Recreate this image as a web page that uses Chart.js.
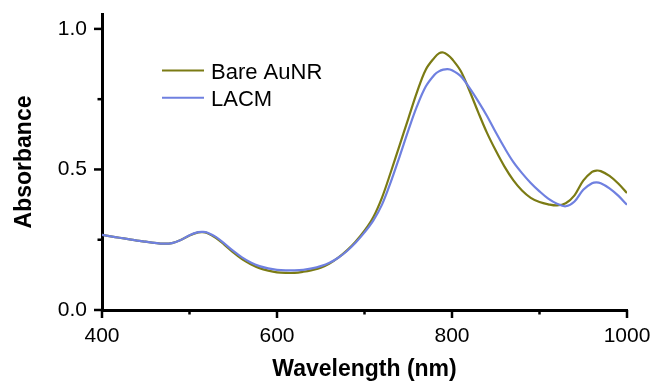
<!DOCTYPE html>
<html>
<head>
<meta charset="utf-8">
<script src="https://cdn.jsdelivr.net/npm/chart.js@4/dist/chart.umd.min.js"></script>
<style>
  html, body { margin: 0; padding: 0; background: #ffffff; }
  canvas { display: block; }
</style>
</head>
<body>
<canvas id="c" width="654" height="383"></canvas>
<script>
const wavelengths = [400,410,420,430,440,450,460,470,480,490,500,510,515,520,530,540,550,560,570,580,590,600,610,620,630,640,650,660,670,680,690,700,710,720,730,740,750,760,770,780,785,790,795,800,810,820,830,840,850,860,870,880,890,900,910,920,930,940,950,960,965,970,980,990,1000];

const bareAuNR = [0.267,0.262,0.257,0.252,0.247,0.243,0.239,0.236,0.238,0.249,0.265,0.276,0.277,0.274,0.257,0.232,0.205,0.181,0.163,0.149,0.140,0.134,0.132,0.132,0.136,0.142,0.150,0.165,0.186,0.212,0.244,0.282,0.330,0.400,0.490,0.585,0.680,0.775,0.855,0.898,0.913,0.916,0.908,0.893,0.850,0.780,0.703,0.630,0.567,0.510,0.462,0.425,0.399,0.384,0.376,0.372,0.380,0.408,0.460,0.491,0.496,0.494,0.477,0.450,0.416];

const lacm = [0.267,0.262,0.257,0.252,0.247,0.243,0.239,0.236,0.238,0.249,0.266,0.277,0.278,0.276,0.260,0.236,0.210,0.187,0.169,0.156,0.148,0.143,0.141,0.141,0.143,0.148,0.156,0.168,0.186,0.210,0.240,0.276,0.318,0.375,0.455,0.545,0.638,0.725,0.795,0.837,0.849,0.855,0.857,0.853,0.832,0.790,0.742,0.690,0.632,0.577,0.527,0.487,0.452,0.422,0.396,0.378,0.369,0.386,0.428,0.451,0.454,0.451,0.433,0.407,0.374];

const seriesNames = ['Bare AuNR', 'LACM'];
const seriesColors = ['#7b7b14', '#6f80e0'];
const xMajorLabels = [400, 600, 800, 1000];
const yMajorLabels = [0.0, 0.5, 1.0];

const FONT = "'Liberation Sans', Arial, sans-serif";

const toPoints = (ys) => wavelengths.map((x, i) => ({ x: x, y: ys[i] }));
const isMajor = (list, v) => list.some(m => Math.abs(m - v) < 1e-6);

const legendPlugin = {
  id: 'insideLegend',
  afterDatasetsDraw(chart) {
    const ctx = chart.ctx;
    ctx.save();
    chart.data.datasets.forEach((ds, i) => {
      const y = 70.5 + i * 27.3;
      ctx.strokeStyle = ds.borderColor;
      ctx.lineWidth = 2;
      ctx.beginPath();
      ctx.moveTo(162, y);
      ctx.lineTo(204, y);
      ctx.stroke();
      ctx.fillStyle = '#000';
      ctx.font = '22px ' + FONT;
      ctx.textBaseline = 'alphabetic';
      ctx.textAlign = 'left';
      ctx.fillText(ds.label, 211, y + 8.5);
    });
    ctx.restore();
  }
};

// Tick marks (major longer, minor shorter) placed through the library's scales
const tickMarkPlugin = {
  id: 'tickMarks',
  afterDraw(chart) {
    const ctx = chart.ctx;
    const area = chart.chartArea;
    const xs = chart.scales.x, ys = chart.scales.y;
    ctx.save();
    ctx.strokeStyle = '#000';
    ctx.lineWidth = 2.5;
    xs.ticks.forEach(t => {
      const px = xs.getPixelForValue(t.value);
      const len = isMajor(xMajorLabels, t.value) ? 8 : 4.5;
      ctx.beginPath();
      ctx.moveTo(px, area.bottom);
      ctx.lineTo(px, area.bottom + len);
      ctx.stroke();
    });
    ys.ticks.forEach(t => {
      const py = ys.getPixelForValue(t.value);
      const len = isMajor(yMajorLabels, t.value) ? 8 : 4.5;
      ctx.beginPath();
      ctx.moveTo(area.left, py);
      ctx.lineTo(area.left - len, py);
      ctx.stroke();
    });
    ctx.restore();
  }
};

new Chart(document.getElementById('c'), {
  type: 'line',
  data: {
    datasets: [
      { label: seriesNames[0], data: toPoints(bareAuNR), borderColor: seriesColors[0], backgroundColor: seriesColors[0], borderWidth: 2.2, pointRadius: 0, tension: 0.35, fill: false, order: 1 },
      { label: seriesNames[1], data: toPoints(lacm), borderColor: seriesColors[1], backgroundColor: seriesColors[1], borderWidth: 2.2, pointRadius: 0, tension: 0.35, fill: false, order: 0 }
    ]
  },
  options: {
    responsive: false,
    animation: false,
    devicePixelRatio: 1,
    layout: { padding: { top: 14, right: 27, left: 0, bottom: 0 } },
    plugins: { legend: { display: false }, tooltip: { enabled: false } },
    scales: {
      x: {
        type: 'linear',
        min: 400,
        max: 1000,
        afterFit: (s) => { s.height = 73; s.paddingLeft = 0; s.paddingRight = 0; },
        border: { color: '#000', width: 3 },
        grid: {
          drawOnChartArea: false,
          tickLength: 8,
          tickColor: 'rgba(0,0,0,0)'
        },
        ticks: {
          stepSize: 100,
          autoSkip: false,
          maxRotation: 0,
          padding: 6,
          color: '#000',
          font: { family: FONT, size: 21 },
          callback: (v) => isMajor(xMajorLabels, v) ? String(v) : ''
        },
        title: {
          display: true,
          text: 'Wavelength (nm)',
          color: '#000',
          font: { family: FONT, size: 23, weight: 'bold' },
          padding: { top: 0, bottom: 0 }
        }
      },
      y: {
        type: 'linear',
        min: 0,
        max: 1.053,
        afterFit: (s) => { s.width = 102; s.paddingTop = 0; s.paddingBottom = 0; },
        border: { color: '#000', width: 3 },
        grid: {
          drawOnChartArea: false,
          tickLength: 8,
          tickColor: 'rgba(0,0,0,0)'
        },
        ticks: {
          stepSize: 0.25,
          includeBounds: false,
          padding: 7,
          color: '#000',
          font: { family: FONT, size: 21 },
          callback: (v) => isMajor(yMajorLabels, v) ? v.toFixed(1) : ''
        },
        title: {
          display: true,
          text: 'Absorbance',
          color: '#000',
          font: { family: FONT, size: 23, weight: 'bold' },
          padding: { top: 11, bottom: 0 }
        }
      }
    }
  },
  plugins: [legendPlugin, tickMarkPlugin]
});
</script>
</body>
</html>
